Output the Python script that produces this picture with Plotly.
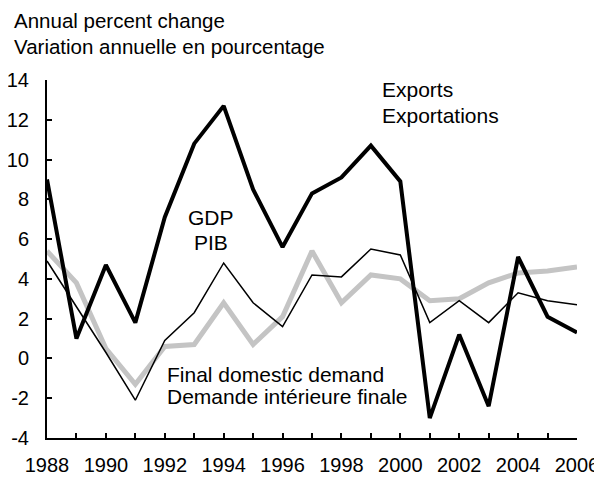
import plotly.graph_objects as go

years = list(range(1988, 2007))
exports = [9.0, 1.0, 4.7, 1.8, 7.1, 10.8, 12.7, 8.5, 5.6, 8.3, 9.1, 10.7, 8.9, -3.0, 1.2, -2.4, 5.1, 2.1, 1.3]
gdp = [4.9, 2.6, 0.3, -2.1, 0.9, 2.3, 4.8, 2.8, 1.6, 4.2, 4.1, 5.5, 5.2, 1.8, 2.9, 1.8, 3.3, 2.9, 2.7]
fdd = [5.4, 3.8, 0.5, -1.3, 0.6, 0.7, 2.8, 0.7, 2.1, 5.4, 2.8, 4.2, 4.0, 2.9, 3.0, 3.8, 4.3, 4.4, 4.6]

y_ticks = [-4, -2, 0, 2, 4, 6, 8, 10, 12, 14]
y_labels = ["-4", "-2", "0", "2", "4", "6", "8", "10", "12", "14"]
x_labels = [str(y) if y % 2 == 0 else "" for y in years]

FONT = "Liberation Sans, Arial, Helvetica, sans-serif"

fig = go.Figure()
fig.add_trace(go.Scatter(x=years, y=fdd, mode="lines",
                         line=dict(color="#c4c4c4", width=5), name="FDD"))
fig.add_trace(go.Scatter(x=years, y=gdp, mode="lines",
                         line=dict(color="black", width=1.5), name="GDP"))
fig.add_trace(go.Scatter(x=years, y=exports, mode="lines",
                         line=dict(color="black", width=4), name="Exports"))

OFF = 8  # page body margin
W, H = 602 - OFF, 478 - OFF
# target plot area in window pixels: x 47..577, y 80..438
X0, X1, Y0, Y1 = 47, 577, 80, 438
L, R, T, B = X0 - OFF, W - (X1 - OFF), Y0 - OFF, H - (Y1 - OFF)

fig.update_layout(
    width=W, height=H,
    margin=dict(l=L, r=R, t=T, b=B),
    paper_bgcolor="white", plot_bgcolor="white",
    showlegend=False,
    font=dict(family=FONT, size=20, color="black"),
)
fig.update_xaxes(range=[1988, 2006], tickvals=years, ticktext=x_labels,
                 ticks="inside", ticklen=5, tickwidth=1.5, tickcolor="black",
                 showline=True, linecolor="black", linewidth=2,
                 showgrid=False, zeroline=False, ticklabelstandoff=8,
                 automargin=False, tickfont=dict(size=20))
fig.update_yaxes(range=[-4, 14], tickvals=y_ticks, ticktext=y_labels,
                 ticks="inside", ticklen=5, tickwidth=1.5, tickcolor="black",
                 showline=True, linecolor="black", linewidth=2,
                 showgrid=False, zeroline=False, ticklabelstandoff=12,
                 automargin=False, tickfont=dict(size=20))

def px(x):
    return (x - X0) / (X1 - X0)
def py(y):
    return (Y1 - y) / (Y1 - Y0)

def line(s, x, baseline, anchor="left", size=21):
    fig.add_annotation(text=s, x=px(x), y=py(baseline + size * 0.28),
                       xref="paper", yref="paper",
                       xanchor=anchor, yanchor="bottom", showarrow=False,
                       font=dict(family=FONT, size=size, color="black"))

line("Annual percent change", 12, 28.5, size=20.5)
line("Variation annuelle en pourcentage", 12, 54.5, size=20.5)
line("Exports", 380, 96.7)
line("Exportations", 380, 122.7)
line("GDP", 211, 225, anchor="center")
line("PIB", 211, 250, anchor="center")
line("Final domestic demand", 165, 381.7)
line("Demande intérieure finale", 165, 404.3)

fig.write_html("out.html")
